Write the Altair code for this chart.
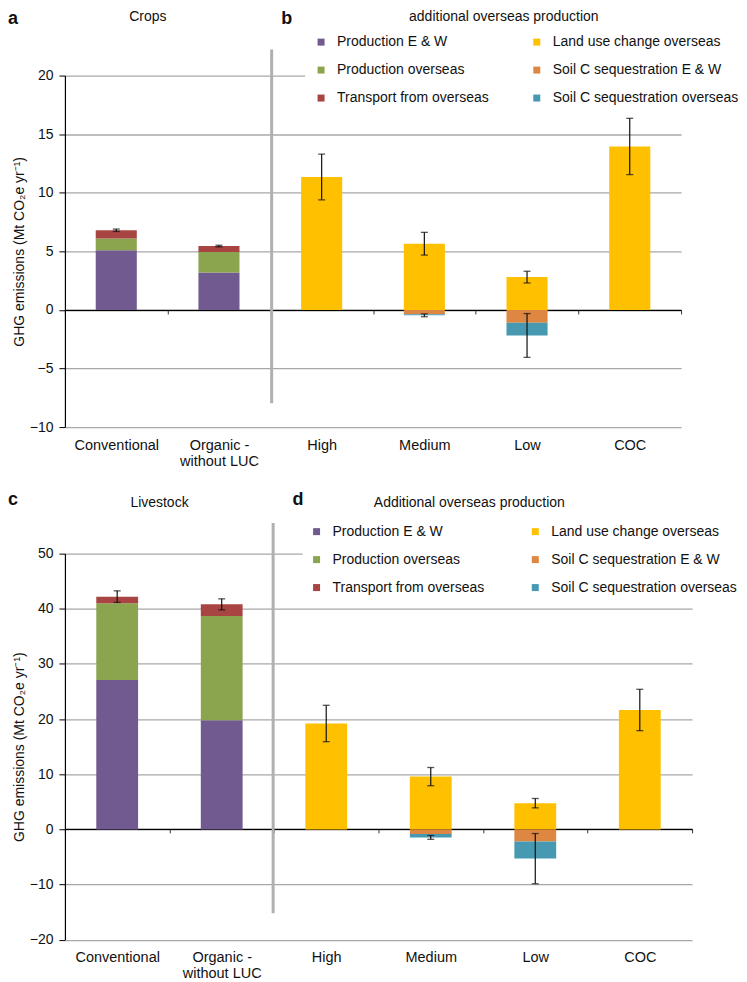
import altair as alt
import pandas as pd

# ---------------- data ----------------
categories = ["Conventional", "Organic - without LUC", "High", "Medium", "Low", "COC"]
components = ["Production E & W", "Production overseas", "Transport from overseas",
              "Land use change overseas", "Soil C sequestration E & W",
              "Soil C sequestration overseas"]
component_colors = ["#715A8F", "#8BA54F", "#A84442", "#FFC000", "#DD8743", "#4799B1"]

# Crops (Mt CO2e / yr), one list per component, in category order
crops_prod_ew = [5.1, 3.2, 0, 0, 0, 0]
crops_prod_os = [1.0, 1.75, 0, 0, 0, 0]
crops_transport = [0.7, 0.5, 0, 0, 0, 0]
crops_luc = [0, 0, 11.35, 5.65, 2.8, 13.95]
crops_soil_ew = [0, 0, 0, -0.38, -1.1, 0]
crops_soil_os = [0, 0, 0, -0.08, -1.08, 0]
crops_err_pos = [0.1, 0.07, 1.95, 0.97, 0.5, 2.4]
crops_err_neg = [0, 0, 0, 0.12, 1.87, 0]

# Livestock
live_prod_ew = [27.1, 19.8, 0, 0, 0, 0]
live_prod_os = [13.9, 18.9, 0, 0, 0, 0]
live_transport = [1.2, 2.1, 0, 0, 0, 0]
live_luc = [0, 0, 19.2, 9.57, 4.75, 21.65]
live_soil_ew = [0, 0, 0, -0.85, -2.2, 0]
live_soil_os = [0, 0, 0, -0.6, -3.1, 0]
live_err_pos = [1.05, 1.0, 3.3, 1.65, 0.85, 3.75]
live_err_neg = [0, 0, 0, 0.35, 4.55, 0]

FONT = "Liberation Sans"
YTITLE = "GHG emissions (Mt CO\u2082e yr\u207b\u00b9)"


def build_frames(series, err_pos, err_neg):
    rows = []
    for comp, vals in zip(components, series):
        for cat, v in zip(categories, vals):
            if v != 0:
                rows.append({"category": cat, "component": comp, "value": v,
                             "ord": components.index(comp)})
    bars = pd.DataFrame(rows)
    err_rows = []
    for i, cat in enumerate(categories):
        pos = sum(s[i] for s in series if s[i] > 0)
        neg = sum(s[i] for s in series if s[i] < 0)
        if err_pos[i] > 0:
            err_rows.append({"category": cat, "lo": pos - err_pos[i], "hi": pos + err_pos[i]})
        if err_neg[i] > 0:
            err_rows.append({"category": cat, "lo": neg - err_neg[i], "hi": neg + err_neg[i]})
    errs = pd.DataFrame(err_rows)
    return bars, errs


def panel(series, err_pos, err_neg, domain, ticks, width, height, zero_from_bottom,
          label_pad, legend_x, legend_y, col_pad, texts, sep, mask):
    bars, errs = build_frames(series, err_pos, err_neg)
    yscale = alt.Scale(domain=domain, nice=False, zero=False)
    xscale = alt.Scale(domain=categories, paddingInner=0, paddingOuter=0)

    xaxis = alt.Axis(
        title=None, orient="bottom", offset=-zero_from_bottom, tickBand="extent",
        domainColor="#000000", domainWidth=1.3, tickColor="#333333", tickSize=4,
        tickWidth=1, labelAngle=0, labelFontSize=14.5, labelColor="#111111",
        labelPadding=label_pad, labelLineHeight=16.5, grid=False, labelFont=FONT,
        labelExpr="datum.value == 'Organic - without LUC' ? ['Organic -', 'without LUC'] : datum.label",
    )
    yaxis = alt.Axis(
        title=YTITLE, values=ticks, format="d", grid=True, gridColor="#A8A8A8",
        gridWidth=1.3, domainColor="#000000", domainWidth=1.2, tickColor="#000000",
        tickSize=6, labelPadding=6, labelFontSize=14, labelColor="#111111",
        titleFontSize=14, titleFontWeight="normal", titleColor="#111111",
        titlePadding=3, labelFont=FONT, titleFont=FONT,
    )

    def X():
        return alt.X("category:N", sort=categories, scale=xscale, axis=xaxis)

    dummy = alt.Data(values=[{}])
    # white patch that hides the top grid line behind the legend
    mask_layer = alt.Chart(dummy).mark_rect(color="white").encode(
        x=alt.value(mask[0]), x2=alt.value(width), y=alt.value(mask[1]), y2=alt.value(mask[2])
    )
    bar_layer = alt.Chart(bars).mark_bar(width=alt.RelativeBandSize(0.4)).encode(
        x=X(),
        y=alt.Y("value:Q", stack="zero", scale=yscale, axis=yaxis),
        color=alt.Color(
            "component:N",
            scale=alt.Scale(domain=components, range=component_colors),
            legend=alt.Legend(
                orient="none", legendX=legend_x, legendY=legend_y, columns=2,
                title=None, symbolType="square", symbolSize=49, symbolStrokeWidth=0,
                labelFontSize=14, labelFont=FONT, labelColor="#111111",
                columnPadding=col_pad, rowPadding=14, padding=0,
                labelOffset=9, labelLimit=400,
            ),
        ),
        order=alt.Order("ord:Q"),
    )
    err_rule = alt.Chart(errs).mark_rule(color="#111111", strokeWidth=1.2).encode(
        x=X(),
        y=alt.Y("lo:Q", scale=yscale, axis=yaxis),
        y2="hi:Q",
    )
    err_lo = alt.Chart(errs).mark_tick(color="#111111", size=7, thickness=1.3).encode(
        x=X(),
        y=alt.Y("lo:Q", scale=yscale, axis=yaxis),
    )
    err_hi = alt.Chart(errs).mark_tick(color="#111111", size=7, thickness=1.3).encode(
        x=X(),
        y=alt.Y("hi:Q", scale=yscale, axis=yaxis),
    )
    sep_layer = alt.Chart(dummy).mark_rule(color="#B0B0B0", strokeWidth=3).encode(
        x=alt.value(sep[0]), y=alt.value(sep[1]), y2=alt.value(sep[2])
    )
    layers = [mask_layer, bar_layer, err_rule, err_lo, err_hi, sep_layer]
    for (txt, px, py, size, weight, align) in texts:
        layers.append(
            alt.Chart(dummy).mark_text(
                text=txt, fontSize=size, fontWeight=weight, align=align,
                baseline="alphabetic", font=FONT, color="#111111",
            ).encode(x=alt.value(px), y=alt.value(py))
        )
    return alt.layer(*layers).properties(width=width, height=height)


top = panel(
    [crops_prod_ew, crops_prod_os, crops_transport, crops_luc, crops_soil_ew, crops_soil_os],
    crops_err_pos, crops_err_neg,
    domain=[-10, 20], ticks=[-10, -5, 0, 5, 10, 15, 20],
    width=617, height=352, zero_from_bottom=117.3, label_pad=124.3,
    legend_x=249.5, legend_y=-40.5, col_pad=41,
    texts=[("a", -57, -52, 18, "bold", "left"),
           ("Crops", 83, -54.5, 14, "normal", "center"),
           ("b", 216.5, -52, 18, "bold", "left"),
           ("additional overseas production", 439.5, -54.5, 14, "normal", "center")],
    sep=(207, -26, 328),
    mask=(240.5, -6, 6),
)

bottom = panel(
    [live_prod_ew, live_prod_os, live_transport, live_luc, live_soil_ew, live_soil_os],
    live_err_pos, live_err_neg,
    domain=[-20, 50], ticks=[-20, -10, 0, 10, 20, 30, 40, 50],
    width=628, height=386.6, zero_from_bottom=111.0, label_pad=117.6,
    legend_x=245, legend_y=-29.0, col_pad=44,
    texts=[("c", -57, -49, 18, "bold", "left"),
           ("Livestock", 94.7, -46.7, 14, "normal", "center"),
           ("d", 228, -49, 18, "bold", "left"),
           ("Additional overseas production", 405, -46.7, 14, "normal", "center")],
    sep=(208.5, -30.7, 360),
    mask=(238, -6, 6),
)

chart = alt.vconcat(top, bottom, spacing=126.7, bounds="flush").resolve_legend(
    color="independent"
).properties(
    padding={"left": 0, "top": 1, "right": 0, "bottom": 0}
).configure(font=FONT, view=alt.ViewConfig(stroke=None))

chart.save("out.html", embed_options={"renderer": "svg", "actions": False})
